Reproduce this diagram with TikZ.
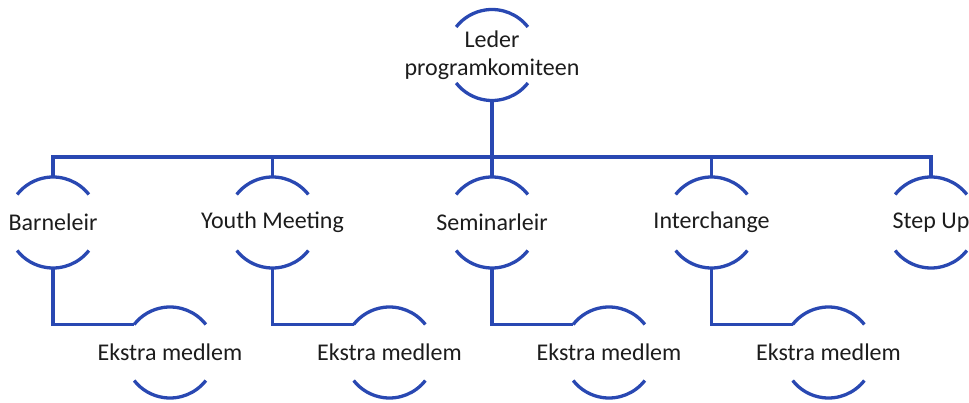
\documentclass[tikz,border=0pt]{standalone}
\usepackage{fontspec}
\setmainfont{Carlito}
\usetikzlibrary{positioning,calc}
\definecolor{orgblue}{RGB}{41,72,178}
\definecolor{inktext}{RGB}{28,28,28}

\begin{document}
\begin{tikzpicture}[
         x=1pt, y=1pt,
         node distance=219.5pt, on grid,
         role/.style = {minimum height=91pt, inner sep=0pt, align=center,
         font=\fontsize{24}{28}\selectfont, text=inktext},
         link/.style = {line width=3.3pt, draw=orgblue}
]
         \useasboundingbox (0,0) rectangle (969,-403);

         % leder
         \node[role] (leder) at (492,-55) {Leder\\programkomiteen};

         % second row
         \node[role] (barn) at (53,-222.5)      {Barneleir};
         \node[role, right=of barn]    (youth)   {Youth Meeting};
         \node[role, right=of youth]   (seminar) {Seminarleir};
         \node[role, right=of seminar] (inter)   {Interchange};
         \node[role, right=of inter]   (stepup)  {Step Up};

         % extra members
         \node[role, below right=130pt and 117pt of barn]    (ekstra1) {Ekstra medlem};
         \node[role, below right=130pt and 117pt of youth]   (ekstra2) {Ekstra medlem};
         \node[role, below right=130pt and 117pt of seminar] (ekstra3) {Ekstra medlem};
         \node[role, below right=130pt and 117pt of inter]   (ekstra4) {Ekstra medlem};

         % open circles
         \foreach \n in {leder,barn,youth,seminar,inter,stepup,ekstra1,ekstra2,ekstra3,ekstra4} {
            \draw[link] ($(\n.center)+(38:45.5)$) arc[start angle=38, end angle=142, radius=45.5pt];
            \draw[link] ($(\n.center)+(-38:45.5)$) arc[start angle=-38, end angle=-142, radius=45.5pt];
         }

         % bus
         \coordinate (bus) at (0,-157);
         \draw[link] (leder.south) -- (leder.south |- bus);
         \draw[link] (barn.north) -- (barn.north |- bus) -- (stepup.north |- bus) -- (stepup.north);
         \foreach \n in {youth,seminar,inter}
            \draw[link] (\n.north) -- (\n.north |- bus);

         % links to extra members
         \draw[link] (barn.south)    |- ($(ekstra1.center)+(142:45.5)$);
         \draw[link] (youth.south)   |- ($(ekstra2.center)+(142:45.5)$);
         \draw[link] (seminar.south) |- ($(ekstra3.center)+(142:45.5)$);
         \draw[link] (inter.south)   |- ($(ekstra4.center)+(142:45.5)$);
\end{tikzpicture}
\end{document}
